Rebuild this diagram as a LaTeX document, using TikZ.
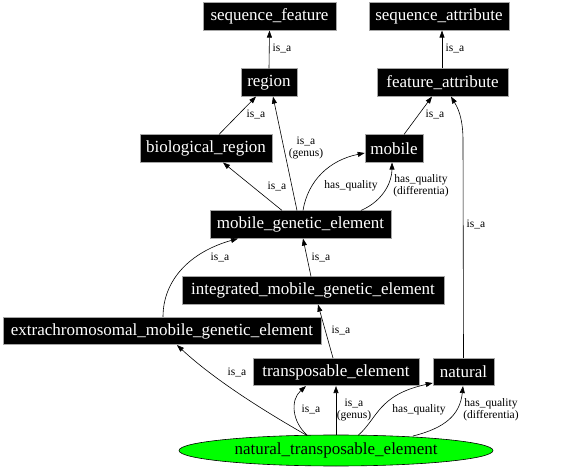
\documentclass[tikz,border=0pt]{standalone}
\usepackage{fontspec}
\setmainfont{Liberation Serif}
\usetikzlibrary{arrows.meta,shapes.geometric}
\begin{document}
\begin{tikzpicture}[x=1pt,y=-1pt,
  box/.style={rectangle,fill=black,draw=gray!70,line width=0.6pt,text=white,inner sep=0pt,
    font=\fontsize{17}{18}\selectfont,minimum height=27.5pt},
  lbl/.style={font=\fontsize{11.5}{12}\selectfont,inner sep=0pt,align=center},
  edge/.style={draw=black,line width=0.6pt,-{Triangle[length=7pt,width=5pt]}}
]
\useasboundingbox[fill=white] (0,0) rectangle (576,470);
\node[box,minimum width=133pt] (sf) at (269.5,16.5) {sequence\_feature};
\node[box,minimum width=140pt] (sa) at (439,16.5) {sequence\_attribute};
\node[box,minimum width=56pt] (region) at (269,82.5) {region};
\node[box,minimum width=131pt] (fa) at (442.5,82.5) {feature\_attribute};
\node[box,minimum width=132pt] (br) at (206,148.5) {biological\_region};
\node[box,minimum width=58pt] (mobile) at (394,148.5) {mobile};
\node[box,minimum width=181pt] (mge) at (300.5,224.5) {mobile\_genetic\_element};
\node[box,minimum width=262pt] (imge) at (313,290.5) {integrated\_mobile\_genetic\_element};
\node[box,minimum width=318pt] (emge) at (162,331) {extrachromosomal\_mobile\_genetic\_element};
\node[box,minimum width=166pt] (te) at (336,372) {transposable\_element};
\node[box,minimum width=61pt] (nat) at (463.5,372) {natural};
\node[ellipse,fill=green,draw=black,line width=0.6pt,inner sep=0pt,minimum width=314pt,minimum height=31pt,
  font=\fontsize{17}{18}\selectfont] (nte) at (336,450.5) {natural\_transposable\_element};

% edges
\draw[edge] (region.north) -- (sf.south);
\draw[edge] ([xshift=-0.5pt]fa.north) -- ([xshift=3pt]sa.south);
\draw[edge] ([xshift=13pt]br.north) -- ([xshift=-13pt]region.south);
\draw[edge] ([xshift=-3.5pt]mge.north) -- ([xshift=4pt]region.south);
\draw[edge] ([xshift=10pt]mobile.north) -- ([xshift=-10.5pt]fa.south);
\draw[edge] (nat.north) -- (463,140) .. controls (463,115) and (456,105) .. ([xshift=8.5pt]fa.south);
\draw[edge] ([xshift=-18.5pt]mge.north) -- ([xshift=17pt]br.south);
\draw[edge] ([xshift=2.5pt]mge.north) .. controls (308,180) and (330,160) .. ([yshift=-4.5pt]mobile.west);
\draw[edge] ([xshift=60.5pt]mge.north) .. controls (385,200) and (392,180) .. ([xshift=-2pt]mobile.south);
\draw[edge] ([xshift=-2pt]imge.north) -- ([xshift=2.5pt]mge.south);
\draw[edge] ([xshift=1pt]emge.north) .. controls (163,280) and (190,252) .. ([xshift=-62.5pt]mge.south);
\draw[edge] ([xshift=-3pt]te.north) -- ([xshift=5pt]imge.south);
\draw[edge] (307,435.5) .. controls (280,420) and (220,385) .. ([xshift=15pt]emge.south);
\draw[edge] (307.5,435.5) .. controls (292,422) and (290,400) .. ([xshift=-30pt]te.south);
\draw[edge] (nte.north) -- (te.south);
\draw[edge] (358,435.5) .. controls (378,418) and (378,395) .. ([yshift=-11pt]nat.west);
\draw[edge] (413,436) .. controls (445,428) and (460,415) .. ([xshift=-0.5pt]nat.south);

% labels
\node[lbl] (l1) at (282,48) {is\_a};
\node[lbl] (l2) at (455,48) {is\_a};
\node[lbl] (l3) at (256,114) {is\_a};
\node[lbl] (l4) at (306,148) {is\_a\\(genus)};
\node[lbl] (l5) at (435,114) {is\_a};
\node[lbl] (l6) at (476,224) {is\_a};
\node[lbl] (l7) at (277,186) {is\_a};
\node[lbl] (l8) at (351,186) {has\_quality};
\node[lbl] (l9) at (421,186) {has\_quality\\(differentia)};
\node[lbl] (l10) at (321,257) {is\_a};
\node[lbl] (l11) at (220,257) {is\_a};
\node[lbl] (l12) at (341,330) {is\_a};
\node[lbl] (l13) at (237,372) {is\_a};
\node[lbl] (l14) at (311,409) {is\_a};
\node[lbl] (l15) at (354,410) {is\_a\\(genus)};
\node[lbl] (l16) at (419,410) {has\_quality};
\node[lbl] (l17) at (491,410) {has\_quality\\(differentia)};
\end{tikzpicture}
\end{document}
